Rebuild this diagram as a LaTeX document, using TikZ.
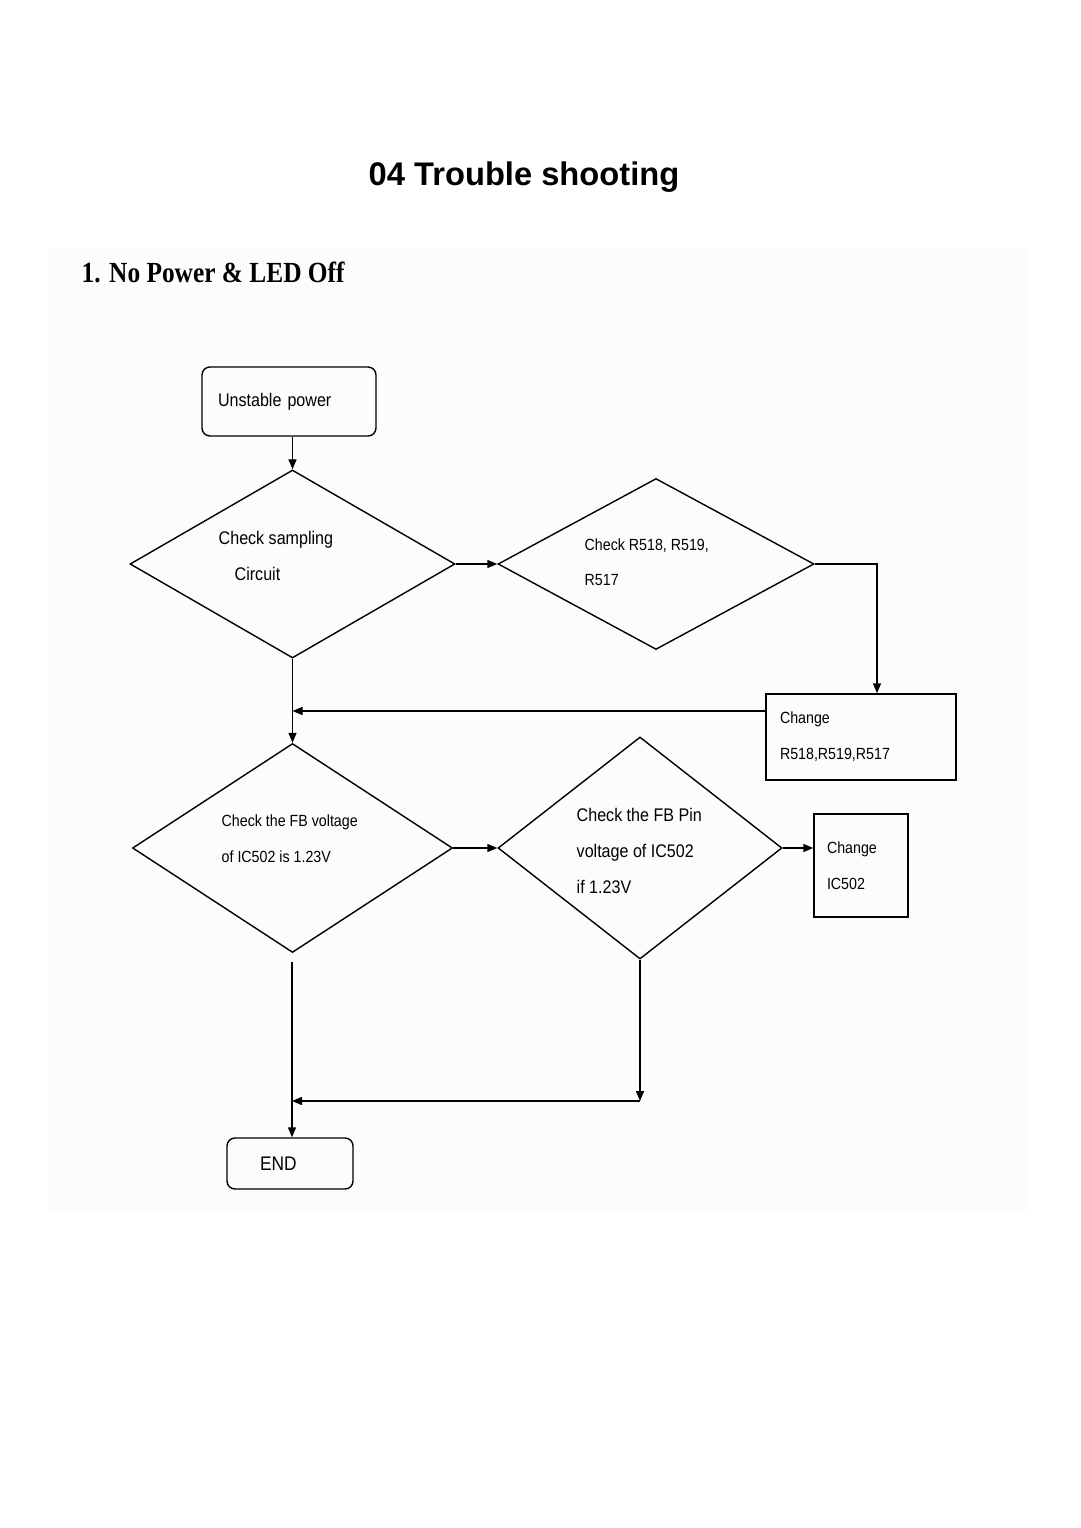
\documentclass[tikz,border=0pt]{standalone}
\usepackage{fontspec}
\setmainfont{Liberation Sans}
\newfontfamily\flowfont[FakeStretch=0.88]{Liberation Sans}
\newfontfamily\headfont[FakeStretch=0.87]{Liberation Serif}
\usetikzlibrary{shapes.geometric,arrows.meta}

\tikzset{
  box/.style={draw, line width=0.4pt, inner ysep=0pt, align=left},
  rbox/.style={box, rounded corners=0.08cm},
  decision/.style={draw, diamond, inner sep=0pt, line width=0.4pt},
  bigtxt/.style={inner sep=0pt, anchor=base west, align=left, font=\flowfont\fontsize{5.2}{10.2}\selectfont},
  smalltxt/.style={bigtxt, font=\flowfont\fontsize{4.6}{10.2}\selectfont},
}

\begin{document}
\begin{tikzpicture}[>={Triangle[length=1mm,width=0.8mm]}, line width=0.4pt]
    \useasboundingbox (0,0) rectangle (10.8,-15.28);
    \fill[white] (0,0) rectangle (10.8,-15.28);
    \fill[black!1] (0.48,-2.48) rectangle (10.30,-12.10);

    % headings
    \node[anchor=base, inner sep=0pt] (title) at (5.24,-1.86)
        {\bfseries\fontsize{9.3}{11}\selectfont 04 Trouble shooting};
    \node[anchor=base west, inner sep=0pt] (sub) at (0.81,-2.83)
        {\headfont\bfseries\fontsize{8.3}{10}\selectfont 1. No Power \& LED Off};

    % boxes
    \node[rbox, inner xsep=0.16cm, text width=1.42cm, minimum height=0.69cm,
          font=\flowfont\fontsize{5.2}{10.2}\selectfont] (start) at (2.89,-4.015) {Unstable power};
    \node[box, inner xsep=0.14cm, text width=1.62cm, minimum height=0.86cm,
          font=\flowfont\fontsize{4.6}{10.2}\selectfont] (chg1) at (8.61,-7.37) {Change\\R518,R519,R517};
    \node[box, inner xsep=0.13cm, text width=0.68cm, minimum height=1.03cm,
          font=\flowfont\fontsize{4.6}{10.2}\selectfont] (chg2) at (8.61,-8.655) {Change\\IC502};
    \node[rbox, inner xsep=0.33cm, text width=0.60cm, minimum height=0.51cm,
          font=\flowfont\fontsize{5.6}{10.2}\selectfont] (stop) at (2.90,-11.635) {END};

    % decisions
    \node[decision, minimum width=3.25cm, minimum height=1.88cm] (d1) at (2.925,-5.64) {};
    \node[decision, minimum width=3.16cm, minimum height=1.71cm] (d2) at (6.56,-5.64) {};
    \node[decision, minimum width=3.20cm, minimum height=2.09cm] (d3) at (2.925,-8.48) {};
    \node[decision, minimum width=2.84cm, minimum height=2.22cm] (d4) at (6.40,-8.48) {};

    % last line of each text sits on the given point
    \node[bigtxt] (t1) at (2.18,-5.45) {Check sampling};
    \node[bigtxt] (t2) at (2.34,-5.81) {Circuit};
    \node[smalltxt] (t3) at (5.84,-5.86) {Check R518, R519,\\R517};
    \node[smalltxt] (t4) at (2.21,-8.62) {Check the FB voltage\\of IC502 is 1.23V};
    \node[bigtxt] (t5) at (5.76,-8.93) {Check the FB Pin\\voltage of IC502\\if 1.23V};

    % connectors
    \coordinate (k1) at (8.77,-5.64);
    \coordinate (m1) at (2.925,-7.11);
    \coordinate (g1) at (2.92,-9.62);
    \coordinate (m2) at (6.40,-11.01);

    \draw[->] (start.south -| d1.north) -- (d1.north);
    \draw[->] (d1.east) -- (d2.west);
    \draw[->] (d2.east) -- (k1) -- (k1 |- chg1.north);
    \draw[->] (chg1.west |- m1) -- (m1);
    \draw[->] (d1.south) -- (d3.north);
    \draw[->] (d3.east) -- (d4.west);
    \draw[->] (d4.east) -- (chg2.west |- d4.east);
    \draw[->] (g1) -- (g1 |- stop.north);
    \draw[->] (d4.south) -- (m2);
    \draw[->] (m2) -- (g1 |- m2);
\end{tikzpicture}
\end{document}
